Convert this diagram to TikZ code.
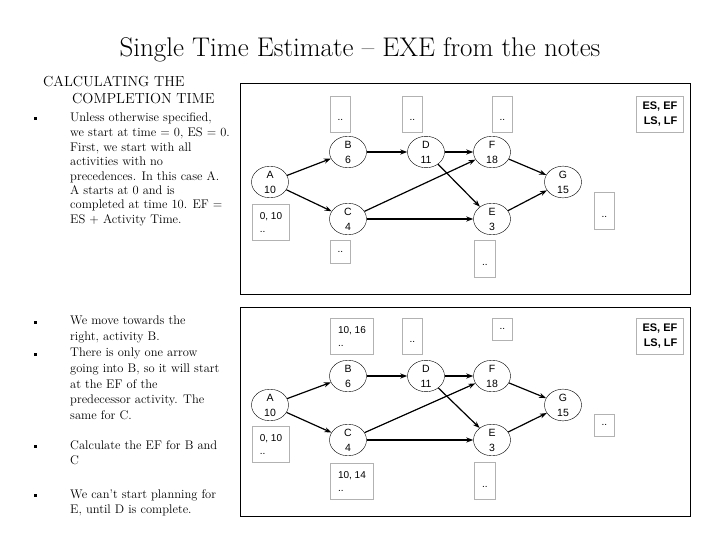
\documentclass[tikz,border=0pt]{standalone}
\usepackage{fontspec}
\newfontfamily\arial{Liberation Sans}
\usetikzlibrary{shapes.geometric,arrows.meta}
\begin{document}
\begin{tikzpicture}[x=1pt,y=-1pt,
  ev/.style={draw,ellipse,minimum width=37,minimum height=29,inner sep=0,align=center,font=\arial\fontsize{10.5}{15}\selectfont},
  gbox/.style={draw=black!30,line width=0.9,anchor=north west,inner sep=2,align=left,font=\arial\fontsize{10}{13}\selectfont},
  key/.style={gbox,font=\arial\bfseries\fontsize{11}{15}\selectfont,align=right},
  ar/.style={-{Stealth[length=7,width=5]},line width=1.2},
  frm/.style={draw,line width=1},
  txt/.style={anchor=north west,align=left,font=\fontsize{12.5}{14.5}\selectfont,inner sep=0},
  txtb/.style={txt,font=\fontsize{12.5}{15.8}\selectfont},
  bul/.style={fill,minimum size=3,inner sep=0}]
\useasboundingbox (0,0) rectangle (720,540);
\node[font=\fontsize{27}{29}\selectfont] (title) at (360,50) {Single Time Estimate -- EXE from the notes};
\node[anchor=north west,inner sep=0,align=left,font=\fontsize{14.5}{17}\selectfont] (head) at (43,76) {CALCULATING THE\\\hspace*{29pt}COMPLETION TIME};
\node[bul] (b1) at (35,119) {};
\node[txt] (t1) at (70,113) {Unless otherwise specified,\\we start at time = 0, ES = 0.\\First, we start with all\\activities with no\\precedences. In this case A.\\A starts at 0 and is\\completed at time 10. EF =\\ES + Activity Time.};
\node[bul] (b2) at (35,322) {};
\node[bul] (b3) at (35,354) {};
\node[txtb] (t2) at (70,316) {We move towards the\\right, activity B.\\There is only one arrow\\going into B, so it will start\\at the EF of the\\predecessor activity. The\\same for C.};
\node[bul] (b4) at (35,446) {};
\node[txtb] (t4) at (70,440) {Calculate the EF for B and\\C};
\node[bul] (b5) at (35,495) {};
\node[txtb] (t5) at (70,489) {We can't start planning for\\E, until D is complete.};
% top frame
\draw[frm] (240,84) rectangle (690,294);
\node[ev] (A) at (270,182) {A\\10};
\node[ev] (B) at (348,152) {B\\6};
\node[ev] (D) at (426,152) {D\\11};
\node[ev] (F) at (492,152) {F\\18};
\node[ev] (C) at (348,219) {C\\4};
\node[ev] (E) at (492,219) {E\\3};
\node[ev] (G) at (563,182) {G\\15};
\foreach \a/\b in {A/B,A/C,B/D,D/F,D/E,C/F,C/E,F/G,E/G} \draw[ar] (\a) -- (\b);
\node[gbox,minimum width=20,minimum height=36] (bB) at (330,96) {\\..};
\node[gbox,minimum width=20,minimum height=36] (bD) at (402,96) {\\..};
\node[gbox,minimum width=20,minimum height=36] (bF) at (492,96) {\\..};
\node[key,minimum width=47,minimum height=36] (k1) at (636,96) {ES, EF\\LS, LF};
\node[gbox,minimum width=37,minimum height=36] (bA) at (252,204) {0, 10\\..};
\node[gbox,minimum width=20,minimum height=23] (bC) at (330,240) {..};
\node[gbox,minimum width=21,minimum height=37] (bE) at (474,240) {\\..};
\node[gbox,minimum width=20,minimum height=37] (bG) at (594,192) {\\..};
% bottom frame
\draw[frm] (240,307) rectangle (690,516);
\node[ev] (A2) at (270,405) {A\\10};
\node[ev] (B2) at (348,376) {B\\6};
\node[ev] (D2) at (426,376) {D\\11};
\node[ev] (F2) at (492,376) {F\\18};
\node[ev] (C2) at (348,440) {C\\4};
\node[ev] (E2) at (492,440) {E\\3};
\node[ev] (G2) at (563,405) {G\\15};
\foreach \a/\b in {A2/B2,A2/C2,B2/D2,D2/F2,D2/E2,C2/F2,C2/E2,F2/G2,E2/G2} \draw[ar] (\a) -- (\b);
\node[gbox,minimum width=43,minimum height=36] (bB2) at (330,318) {10, 16\\..};
\node[gbox,minimum width=20,minimum height=36] (bD2) at (402,318) {\\..};
\node[gbox,minimum width=20,minimum height=22] (bF2) at (492,318) {..};
\node[key,minimum width=47,minimum height=36] (k2) at (636,318) {ES, EF\\LS, LF};
\node[gbox,minimum width=37,minimum height=36] (bA2) at (252,426) {0, 10\\..};
\node[gbox,minimum width=43,minimum height=36] (bC2) at (330,463) {10, 14\\..};
\node[gbox,minimum width=21,minimum height=37] (bE2) at (474,462) {\\..};
\node[gbox,minimum width=20,minimum height=22] (bG2) at (594,414) {..};
\end{tikzpicture}
\end{document}
